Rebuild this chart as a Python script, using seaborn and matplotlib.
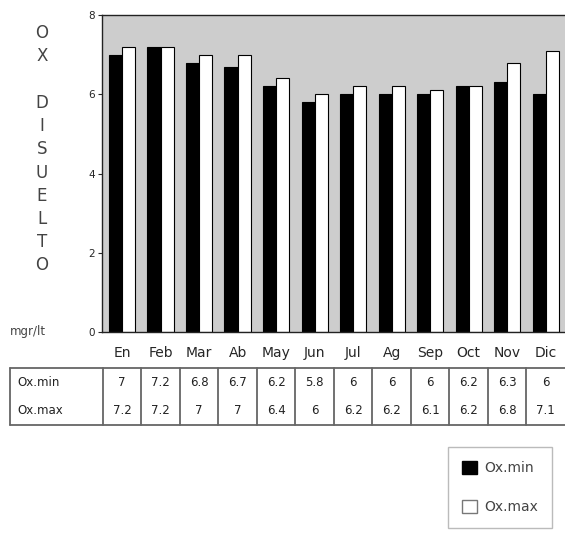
import matplotlib
matplotlib.use("Agg")
import matplotlib.pyplot as plt
from matplotlib.patches import Patch
from matplotlib.transforms import blended_transform_factory
import seaborn as sns
import pandas as pd

# monthly dissolved oxygen
meses = ["En", "Feb", "Mar", "Ab", "May", "Jun", "Jul", "Ag", "Sep", "Oct", "Nov", "Dic"]
ox_min = [7, 7.2, 6.8, 6.7, 6.2, 5.8, 6, 6, 6, 6.2, 6.3, 6]
ox_max = [7.2, 7.2, 7, 7, 6.4, 6, 6.2, 6.2, 6.1, 6.2, 6.8, 7.1]
series = ["Ox.min", "Ox.max"]
yticks = [0, 2, 4, 6, 8]

df = pd.DataFrame({
    "mes": meses * 2,
    "valor": ox_min + ox_max,
    "serie": [series[0]] * len(meses) + [series[1]] * len(meses),
})

sns.set_style("white")
plt.rcParams["font.family"] = ["DejaVu Sans"]

fig = plt.figure(figsize=(5.65, 5.33), dpi=100)
ax = fig.add_axes([102 / 565, 1 - 332 / 533, 1 - 102 / 565, (332 - 15) / 533])
ax.set_facecolor("#cdcdcd")

sns.barplot(data=df, x="mes", y="valor", hue="serie", palette=["black", "white"],
            edgecolor="black", linewidth=0.8, width=0.68, legend=False, ax=ax)

ax.set_xlim(-0.52, 11.5)
ax.set_ylim(0, 8)
ax.set_yticks(yticks)
ax.tick_params(axis="y", length=3, width=0.8, labelsize=7.5, pad=2, direction="out", left=True)
ax.tick_params(axis="x", length=0, labelsize=10, pad=10)
ax.set_xlabel("")
ax.set_ylabel("")
for side in ["left", "bottom", "top"]:
    ax.spines[side].set_color("#222")
    ax.spines[side].set_linewidth(1)
ax.spines["right"].set_visible(False)

# vertical axis label
fig.text(42 / 565, 1 - 24 / 533, "O\nX\n\nD\nI\nS\nU\nE\nL\nT\nO", ha="center", va="top",
         fontsize=12, color="#444", linespacing=1.375)
fig.text(10 / 565, 1 - 332 / 533, "mgr/lt", ha="left", va="center", fontsize=8.5, color="#444")

# data table under the axis
tr = blended_transform_factory(ax.transData, fig.transFigure)
y_top, y_bot = 1 - 368 / 533, 1 - 425 / 533
y_rows = [1 - 382 / 533, 1 - 410 / 533]
x_left = -2.91
line_kw = dict(color="#666", lw=1.3, transform=tr, clip_on=False)
ax.plot([x_left, 11.6], [y_top, y_top], **line_kw)
ax.plot([x_left, 11.6], [y_bot, y_bot], **line_kw)
for xb in [x_left, -0.5] + [k + 0.5 for k in range(11)]:
    ax.plot([xb, xb], [y_top, y_bot], **line_kw)
for row, (name, vals) in enumerate(zip(series, [ox_min, ox_max])):
    ax.text(x_left + 0.2, y_rows[row], name, transform=tr, ha="left", va="center",
            fontsize=8.5, color="#222", clip_on=False)
    for i, v in enumerate(vals):
        ax.text(i, y_rows[row], f"{v:g}", transform=tr, ha="center", va="center",
                fontsize=8.5, color="#222", clip_on=False)

handles = [Patch(facecolor="black", edgecolor="black"),
           Patch(facecolor="white", edgecolor="#777")]
leg = fig.legend(handles, series, loc="upper left", bbox_to_anchor=(448 / 565, 1 - 447 / 533),
                 frameon=True, fancybox=False, edgecolor="#aaa", fontsize=10,
                 handlelength=1.1, handleheight=1.1, labelspacing=1.75, borderpad=1.0,
                 handletextpad=0.5, borderaxespad=0)
leg.get_frame().set_linewidth(1)
for t in leg.get_texts():
    t.set_color("#444")

fig.savefig("out.png", dpi=100)
